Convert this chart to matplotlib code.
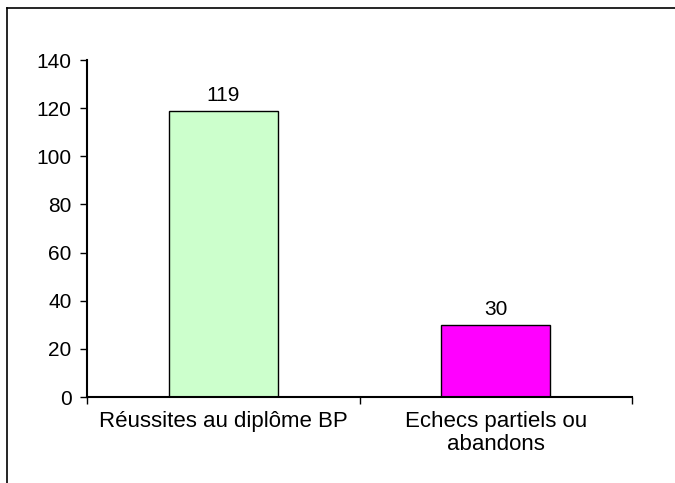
import matplotlib
matplotlib.use("Agg")
import matplotlib.pyplot as plt
from matplotlib.lines import Line2D

# Données du graphique
categories = ["Réussites au diplôme BP", "Echecs partiels ou\nabandons"]
valeurs = [119, 30]
couleurs = ["#CCFFCC", "#FF00FF"]

plt.rcParams["font.family"] = ["Liberation Sans", "DejaVu Sans"]

fig = plt.figure(figsize=(6.75, 4.83), dpi=100)
ax = fig.add_axes([0.1289, 0.178, 0.8074, 0.6977])

# Cadre du graphique (coupé à droite et en bas)
fig.add_artist(Line2D([0.0104, 0.0104], [0.0, 0.984], transform=fig.transFigure,
                      color="black", lw=1.2))
fig.add_artist(Line2D([0.0104, 1.0], [0.984, 0.984], transform=fig.transFigure,
                      color="black", lw=1.2))

x = range(len(categories))
barres = ax.bar(x, valeurs, width=0.4, color=couleurs, edgecolor="black", linewidth=1)
for b, v in zip(barres, valeurs):
    ax.text(b.get_x() + b.get_width() / 2, v + 2.5, str(v), ha="center", va="bottom", fontsize=15)

ax.set_xlim(-0.5, len(categories) - 0.5)
ax.set_ylim(0, 140)
ax.set_yticks(range(0, 141, 20))
ax.tick_params(axis="y", labelsize=15, length=5, width=1, direction="out", pad=6)

# Étiquettes au centre, graduations aux limites des catégories
ax.set_xticks([i - 0.5 for i in range(len(categories) + 1)])
ax.set_xticklabels([])
ax.set_xticks(list(x), minor=True)
ax.set_xticklabels(categories, minor=True, fontsize=16, linespacing=1.1)
ax.tick_params(axis="x", which="major", length=5, width=1, direction="out")
ax.tick_params(axis="x", which="minor", length=0, pad=10)

for s in ["top", "right"]:
    ax.spines[s].set_visible(False)
ax.spines["left"].set_linewidth(1.5)
ax.spines["bottom"].set_linewidth(1.5)

fig.savefig("out.png", dpi=100)
